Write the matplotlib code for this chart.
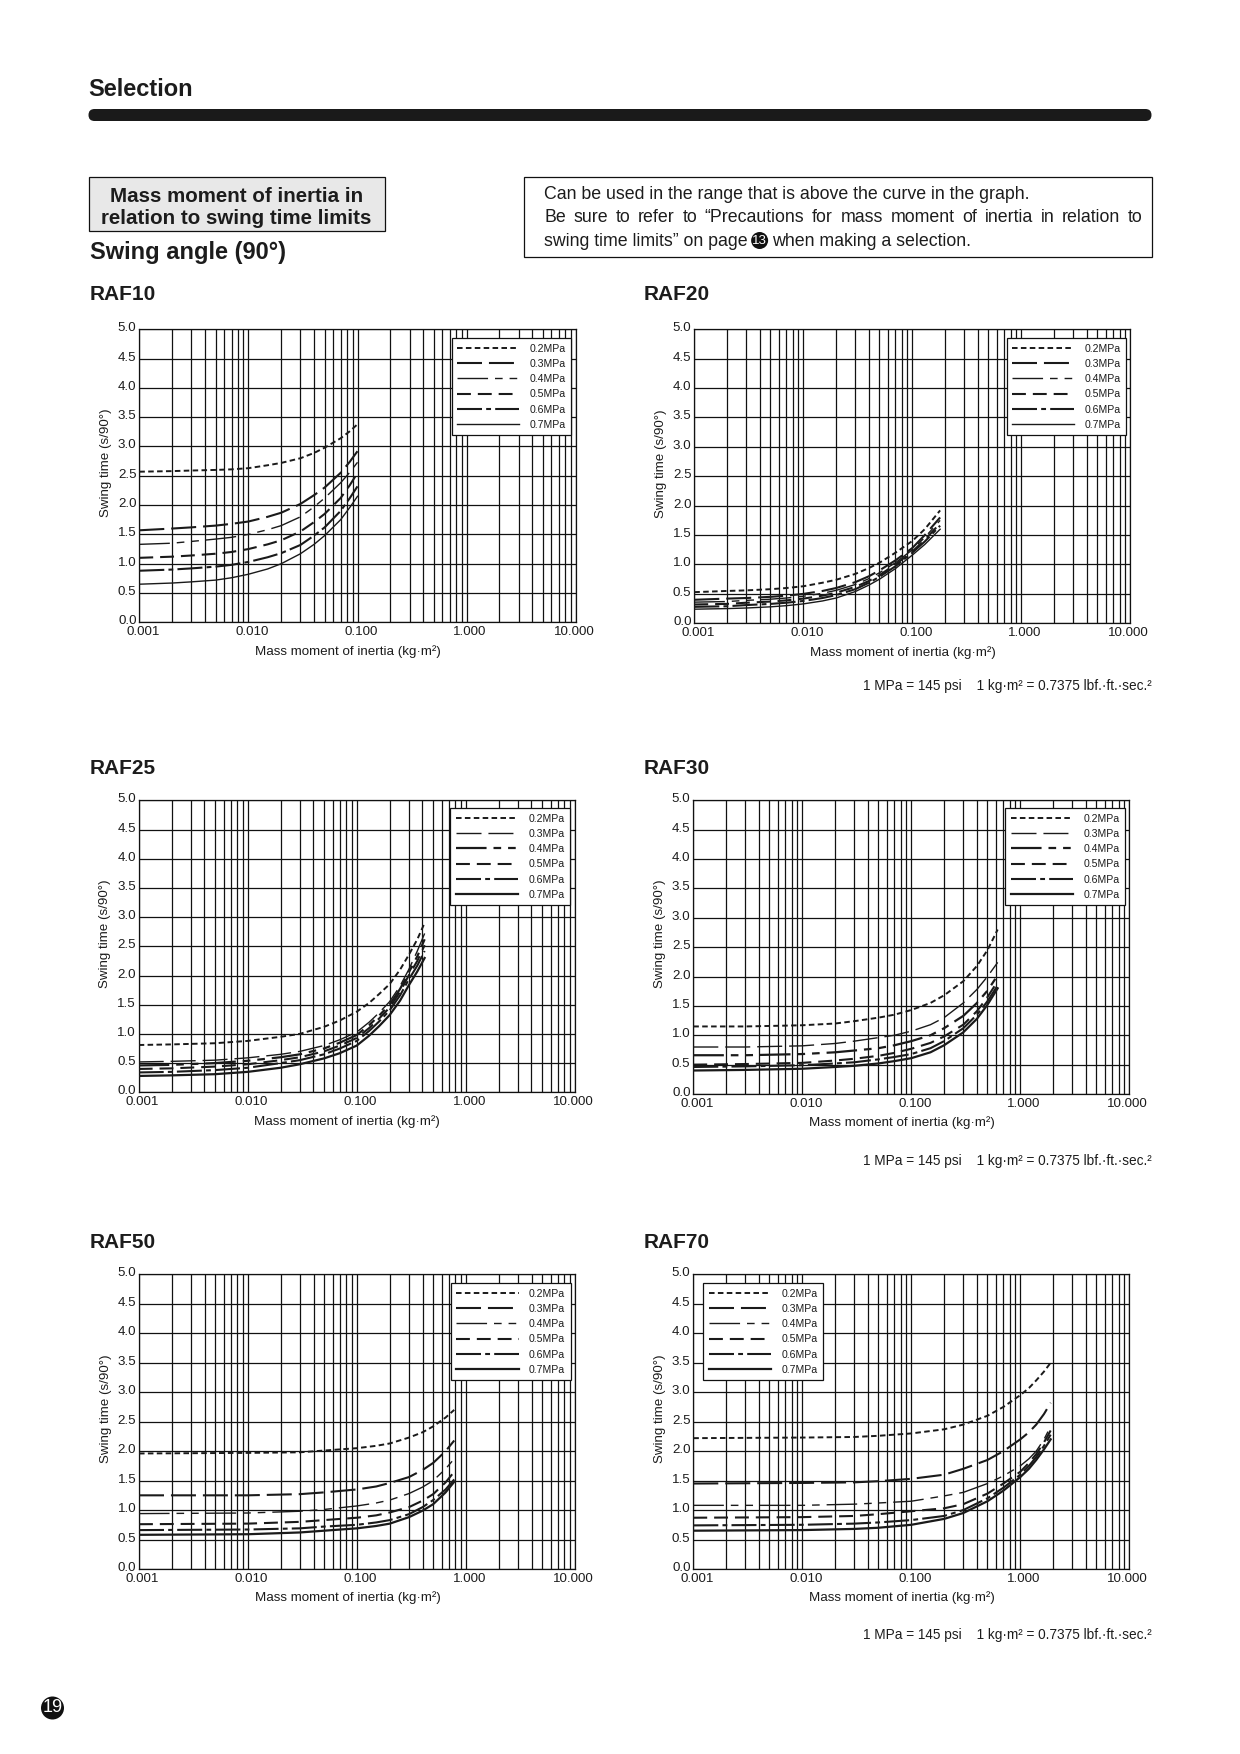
import matplotlib
matplotlib.use('Agg')
import matplotlib.pyplot as plt
from matplotlib.patches import Rectangle, Circle, FancyBboxPatch
from matplotlib.ticker import LogLocator, NullFormatter, FixedLocator
from matplotlib.transforms import ScaledTranslation

plt.rcParams['font.family'] = ['Liberation Sans', 'DejaVu Sans']
plt.rcParams['lines.scale_dashes'] = False

pressures = ['0.2MPa', '0.3MPa', '0.4MPa', '0.5MPa', '0.6MPa', '0.7MPa']
x_ticks = [0.001, 0.01, 0.1, 1, 10]
x_tick_labels = ['0.001', '0.010', '0.100', '1.000', '10.000']
y_ticks = [0, 0.5, 1, 1.5, 2, 2.5, 3, 3.5, 4, 4.5, 5]
y_tick_labels = ['0.0', '0.5', '1.0', '1.5', '2.0', '2.5', '3.0', '3.5', '4.0', '4.5', '5.0']

raf10_x = [.001, .002, .003, .005, .007, .01, .015, .02, .03, .04, .05, .07, .085, .1]
raf10_y = [
    [2.57, 2.58, 2.59, 2.60, 2.61, 2.63, 2.68, 2.72, 2.80, 2.89, 2.98, 3.14, 3.26, 3.38],
    [1.57, 1.60, 1.62, 1.65, 1.68, 1.72, 1.80, 1.87, 2.02, 2.17, 2.30, 2.55, 2.74, 2.92],
    [1.33, 1.35, 1.38, 1.42, 1.45, 1.50, 1.58, 1.65, 1.80, 1.97, 2.12, 2.38, 2.56, 2.73],
    [1.10, 1.12, 1.14, 1.17, 1.20, 1.25, 1.33, 1.40, 1.55, 1.71, 1.85, 2.12, 2.34, 2.55],
    [0.88, 0.90, 0.92, 0.95, 0.98, 1.03, 1.11, 1.18, 1.32, 1.48, 1.62, 1.90, 2.12, 2.32],
    [0.65, 0.67, 0.69, 0.72, 0.76, 0.82, 0.91, 1.00, 1.17, 1.33, 1.48, 1.75, 1.96, 2.15],
]

raf20_x = [.001, .002, .003, .005, .007, .01, .015, .02, .03, .04, .05, .07, .1, .13, .18]
raf20_y = [
    [0.53, 0.55, 0.56, 0.58, 0.60, 0.63, 0.69, 0.74, 0.84, 0.94, 1.03, 1.20, 1.40, 1.60, 1.92],
    [0.40, 0.42, 0.43, 0.45, 0.47, 0.50, 0.55, 0.60, 0.70, 0.80, 0.90, 1.07, 1.28, 1.50, 1.80],
    [0.36, 0.37, 0.39, 0.41, 0.43, 0.46, 0.51, 0.56, 0.66, 0.76, 0.86, 1.03, 1.25, 1.46, 1.75],
    [0.32, 0.33, 0.35, 0.37, 0.39, 0.42, 0.47, 0.52, 0.62, 0.72, 0.82, 1.00, 1.22, 1.42, 1.70],
    [0.28, 0.29, 0.31, 0.33, 0.35, 0.38, 0.43, 0.48, 0.58, 0.69, 0.79, 0.97, 1.20, 1.39, 1.66],
    [0.24, 0.25, 0.26, 0.28, 0.30, 0.33, 0.38, 0.43, 0.54, 0.65, 0.75, 0.93, 1.16, 1.34, 1.60],
]

raf25_x = [.001, .002, .005, .01, .02, .03, .05, .07, .1, .13, .16, .2, .25, .3, .36, .42]
raf25_y = [
    [0.81, 0.82, 0.84, 0.88, 0.95, 1.00, 1.12, 1.23, 1.38, 1.53, 1.68, 1.85, 2.10, 2.35, 2.62, 2.90],
    [0.52, 0.53, 0.55, 0.59, 0.65, 0.70, 0.80, 0.90, 1.03, 1.20, 1.36, 1.55, 1.82, 2.10, 2.42, 2.72],
    [0.46, 0.47, 0.50, 0.54, 0.60, 0.65, 0.75, 0.85, 0.98, 1.15, 1.31, 1.50, 1.77, 2.05, 2.33, 2.62],
    [0.40, 0.41, 0.44, 0.48, 0.55, 0.60, 0.70, 0.80, 0.93, 1.10, 1.26, 1.45, 1.72, 2.00, 2.25, 2.52],
    [0.34, 0.35, 0.38, 0.42, 0.50, 0.55, 0.65, 0.75, 0.88, 1.05, 1.21, 1.40, 1.66, 1.93, 2.17, 2.42],
    [0.28, 0.29, 0.31, 0.35, 0.42, 0.48, 0.58, 0.67, 0.80, 0.97, 1.13, 1.32, 1.57, 1.83, 2.07, 2.30],
]

raf30_x = [.001, .003, .01, .02, .03, .05, .07, .1, .15, .2, .3, .4, .5, .62]
raf30_y = [
    [1.15, 1.15, 1.17, 1.20, 1.24, 1.30, 1.35, 1.43, 1.55, 1.68, 1.92, 2.18, 2.45, 2.80],
    [0.80, 0.80, 0.82, 0.86, 0.90, 0.96, 1.00, 1.07, 1.18, 1.30, 1.55, 1.78, 2.00, 2.24],
    [0.66, 0.66, 0.68, 0.71, 0.74, 0.78, 0.83, 0.90, 1.00, 1.12, 1.33, 1.55, 1.76, 2.02],
    [0.50, 0.51, 0.53, 0.57, 0.60, 0.65, 0.70, 0.77, 0.87, 0.98, 1.18, 1.41, 1.65, 1.92],
    [0.46, 0.47, 0.49, 0.52, 0.54, 0.59, 0.63, 0.68, 0.78, 0.90, 1.12, 1.35, 1.58, 1.85],
    [0.40, 0.41, 0.43, 0.46, 0.48, 0.52, 0.56, 0.61, 0.71, 0.83, 1.05, 1.28, 1.52, 1.80],
]

raf50_x = [.001, .01, .03, .05, .1, .15, .2, .3, .4, .5, .65, .78]
raf50_y = [
    [1.96, 1.97, 1.98, 2.01, 2.05, 2.09, 2.13, 2.23, 2.32, 2.42, 2.57, 2.70],
    [1.25, 1.25, 1.27, 1.30, 1.35, 1.40, 1.46, 1.56, 1.68, 1.80, 2.00, 2.18],
    [0.94, 0.95, 0.98, 1.01, 1.07, 1.12, 1.17, 1.28, 1.39, 1.50, 1.70, 1.87],
    [0.76, 0.77, 0.80, 0.83, 0.87, 0.91, 0.96, 1.05, 1.16, 1.27, 1.47, 1.65],
    [0.66, 0.67, 0.69, 0.72, 0.75, 0.79, 0.83, 0.93, 1.05, 1.17, 1.35, 1.52],
    [0.58, 0.59, 0.62, 0.65, 0.69, 0.73, 0.77, 0.88, 0.99, 1.10, 1.30, 1.48],
]

raf70_x = [.001, .01, .03, .05, .1, .2, .3, .5, .7, 1, 1.2, 1.4, 1.65, 1.9]
raf70_y = [
    [2.22, 2.23, 2.24, 2.26, 2.30, 2.37, 2.45, 2.60, 2.75, 2.95, 3.07, 3.20, 3.35, 3.50],
    [1.45, 1.46, 1.47, 1.49, 1.53, 1.60, 1.70, 1.85, 2.00, 2.20, 2.32, 2.45, 2.63, 2.82],
    [1.08, 1.08, 1.10, 1.12, 1.15, 1.24, 1.30, 1.45, 1.58, 1.75, 1.87, 2.00, 2.20, 2.42],
    [0.87, 0.88, 0.90, 0.93, 0.98, 1.03, 1.10, 1.28, 1.45, 1.65, 1.80, 1.95, 2.15, 2.35],
    [0.74, 0.75, 0.77, 0.79, 0.83, 0.90, 1.00, 1.20, 1.38, 1.60, 1.75, 1.90, 2.09, 2.28],
    [0.65, 0.66, 0.68, 0.70, 0.75, 0.85, 0.95, 1.15, 1.33, 1.56, 1.70, 1.85, 2.03, 2.20],
]

W, H = 1240, 1754
TXT = '#1c1c1c'
dashes = [(4, 2.4), (18, 5), (22, 5, 5.5, 5, 5.5, 5), (10, 5), (18, 3, 3.5, 3), None]
thin_a = [1.4, 1.5, 1.0, 1.5, 1.5, 1.0]   # RAF10, RAF20
thin_b = [1.4, 1.0, 1.6, 1.5, 1.5, 1.6]   # RAF25, RAF30
thin_c = [1.4, 1.5, 1.0, 1.5, 1.5, 1.6]   # RAF50, RAF70

# name, x, y, line widths, axes box in px (left, right, top, bottom), legend corner in px, title x, title y
charts = [
    ('RAF10', raf10_x, raf10_y, thin_a, (139.3, 575.7, 329.3, 622.3), (451.7, 338.3), 89.5, 295),
    ('RAF20', raf20_x, raf20_y, thin_a, (694.3, 1130.3, 329.3, 623.3), (1006.7, 338.3), 644, 295),
    ('RAF25', raf25_x, raf25_y, thin_b, (138.7, 574.7, 800.3, 1092.3), (450.3, 808.3), 89.5, 768.5),
    ('RAF30', raf30_x, raf30_y, thin_b, (693.3, 1129.3, 800.3, 1094), (1005.3, 808.3), 644, 768.5),
    ('RAF50', raf50_x, raf50_y, thin_c, (139, 575, 1274.3, 1569), (451, 1283.3), 89.5, 1243),
    ('RAF70', raf70_x, raf70_y, thin_c, (693.3, 1129.3, 1274.3, 1569), (703.3, 1283.3), 644, 1243),
]

fig = plt.figure(figsize=(W / 100, H / 100), dpi=100, facecolor='white')

# страница целиком в пикселях
page = fig.add_axes([0, 0, 1, 1], zorder=5)
page.set_xlim(0, W)
page.set_ylim(H, 0)
page.axis('off')
page.patch.set_alpha(0)

for name, xs, ys, lws, box, leg_pos, title_x, title_y in charts:
    left, right, top, bottom = box
    ax = fig.add_axes([left / W, 1 - bottom / H, (right - left) / W, (bottom - top) / H])
    ax.set_xscale('log')
    ax.set_xlim(0.001, 10)
    ax.set_ylim(0, 5)
    ax.xaxis.set_major_locator(FixedLocator(x_ticks))
    ax.xaxis.set_minor_locator(LogLocator(base=10, subs=range(2, 10), numticks=20))
    ax.xaxis.set_minor_formatter(NullFormatter())
    ax.set_xticks(x_ticks, x_tick_labels)
    ax.set_yticks(y_ticks, y_tick_labels)
    ax.grid(True, which='both', color='#111111', linewidth=0.9)
    ax.set_axisbelow(True)
    ax.tick_params(which='both', length=0)
    ax.tick_params(axis='x', labelsize=9.6, labelcolor=TXT, pad=3)
    ax.tick_params(axis='y', labelsize=9.6, labelcolor=TXT, pad=2)
    for sp in ax.spines.values():
        sp.set_linewidth(0.9)
        sp.set_color('#111111')

    for lab in ax.get_xticklabels():
        lab.set_transform(lab.get_transform() + ScaledTranslation(3.5 / 100, 0, fig.dpi_scale_trans))
    ax.get_xticklabels()[-1].set_transform(
        ax.get_xticklabels()[-1].get_transform() + ScaledTranslation(-5 / 100, 0, fig.dpi_scale_trans))
    for lab in ax.get_yticklabels():
        lab.set_transform(lab.get_transform() + ScaledTranslation(0, 2.5 / 100, fig.dpi_scale_trans))

    for i in range(6):
        line, = ax.plot(xs, ys[i], color='#1a1a1a', linewidth=lws[i], label=pressures[i], zorder=3)
        if dashes[i] is not None:
            line.set_dashes(dashes[i])
            line.set_dash_capstyle('butt')

    leg = ax.legend(loc='upper left', bbox_to_anchor=(leg_pos[0] / W, 1 - leg_pos[1] / H),
                    bbox_transform=fig.transFigure, borderaxespad=0, fontsize=7.6,
                    handlelength=5.9, handletextpad=1.0, labelspacing=0.5, borderpad=0.5,
                    fancybox=False, framealpha=1, edgecolor='#111111', labelcolor=TXT)
    leg.get_frame().set_linewidth(0.9)
    leg.set_zorder(10)

    cx = left + 208.5
    page.text(cx, bottom + 29, 'Mass moment of inertia (kg·m²)', fontsize=9.6, color=TXT,
              ha='center', va='center')
    page.text(left - 33.5, (top + bottom) / 2 - 13, 'Swing time (s/90°)', fontsize=9.6, color=TXT,
              rotation=90, ha='center', va='center')
    page.text(title_x, title_y, name, fontsize=15, fontweight='bold', color=TXT, va='center')

# шапка
page.text(88, 90, 'Selection', fontsize=17, fontweight='bold', color=TXT, va='center')
page.add_patch(FancyBboxPatch((88.5, 109), 1063, 12, boxstyle='round,pad=0,rounding_size=6',
                              mutation_aspect=1, facecolor='#1a1a1a', edgecolor='#1a1a1a', linewidth=0))
page.add_patch(Rectangle((89, 177), 296, 54, facecolor='#e8e8e8', edgecolor='#111111', linewidth=0.9))
page.text(236.5, 197, 'Mass moment of inertia in', fontsize=14.8, fontweight='bold', color=TXT,
          ha='center', va='center')
page.text(236.5, 218, 'relation to swing time limits', fontsize=14.8, fontweight='bold', color=TXT,
          ha='center', va='center')
page.text(90.5, 252, 'Swing angle (90°)', fontsize=17, fontweight='bold', color=TXT, va='center')

page.add_patch(Rectangle((523.5, 177), 628, 80, facecolor='white', edgecolor='#111111', linewidth=0.9))
NOTE_FS = 12.8
page.text(544, 194.5, 'Can be used in the range that is above the curve in the graph.',
          fontsize=NOTE_FS, color=TXT, va='center')

# вторая строка выровнена по ширине
renderer = fig.canvas.get_renderer()
words = 'Be sure to refer to “Precautions for mass moment of inertia in relation to'.split()
tmp = [page.text(0, 218, w, fontsize=NOTE_FS, color=TXT, va='center') for w in words]
widths = [t.get_window_extent(renderer).width for t in tmp]
gap = (1142.5 - 544 - sum(widths)) / (len(words) - 1)
pos = 544
for t, w in zip(tmp, widths):
    t.set_x(pos)
    pos += w + gap

part = page.text(544, 241, 'swing time limits” on page', fontsize=NOTE_FS, color=TXT, va='center')
end = 544 + part.get_window_extent(renderer).width
page.add_patch(Circle((end + 12, 240.5), 8.5, facecolor='#111111', edgecolor='none'))
page.text(end + 12, 240.5, '13', fontsize=9.5, color='white', ha='center', va='center')
page.text(end + 24, 241, 'when making a selection.', fontsize=NOTE_FS, color=TXT, va='center')

# пересчёт единиц под графиками
for y in [686, 1161, 1635]:
    page.text(1151.5, y, '1 MPa = 145 psi    1 kg·m² = 0.7375 lbf.·ft.·sec.²', fontsize=9.8,
              color=TXT, ha='right', va='center')

# номер страницы
page.add_patch(Circle((52.5, 1708), 11.5, facecolor='#111111', edgecolor='none'))
page.text(52.5, 1708, '19', fontsize=13, color='white', ha='center', va='center')

fig.savefig('out.png', dpi=100)
